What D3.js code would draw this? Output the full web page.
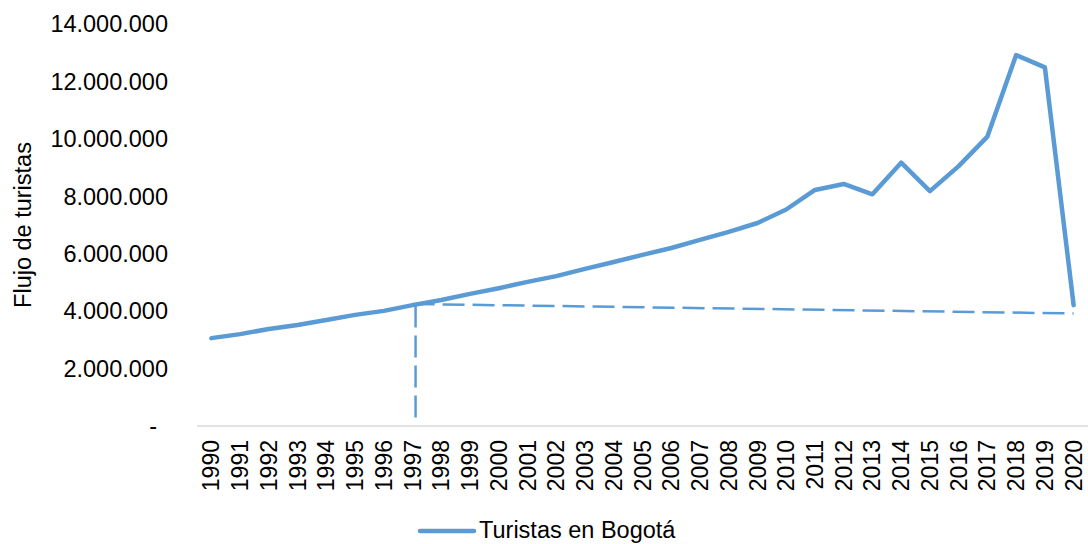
<!DOCTYPE html>
<html>
<head>
<meta charset="utf-8">
<script src="https://cdn.jsdelivr.net/npm/d3@7"></script>
<style>
  body { margin: 0; background: #fff; }
  svg text { font-family: "Liberation Sans", Arial, sans-serif; fill: #000; }
</style>
</head>
<body>
<svg id="chart" width="1088" height="544"></svg>
<script>
const years = d3.range(1990, 2021).map(String);
const turistas = [
  3060000, 3200000, 3380000, 3520000, 3690000, 3870000, 4010000, 4210000,
  4390000, 4600000, 4800000, 5020000, 5220000, 5470000, 5710000, 5960000,
  6200000, 6480000, 6760000, 7070000, 7540000, 8220000, 8430000, 8070000,
  9170000, 8180000, 9050000, 10080000, 12920000, 12490000, 4210000
];
// tendencia proyectada desde 1997
const projYears = ["1997", "2020"];
const projValues = [4250000, 3920000];
const markerYear = "1997";
const markerRange = [300000, 4200000];
const yTicks = [0, 2000000, 4000000, 6000000, 8000000, 10000000, 12000000, 14000000];

const svg = d3.select("#chart");
const margin = { top: 24, right: 0, bottom: 118, left: 197 };
const width = 1088 - margin.left - margin.right;
const height = 544 - margin.top - margin.bottom;
const color = "#5B9BD5";

const locale = d3.formatLocale({ decimal: ",", thousands: ".", grouping: [3], currency: ["$", ""] });
const fmt = locale.format(",.0f");

const g = svg.append("g").attr("transform", `translate(${margin.left},${margin.top})`);

const x = d3.scalePoint().domain(years).range([0, width]).padding(0.5);
const y = d3.scaleLinear().domain([0, 14000000]).range([height, 0]);

// eje x
g.append("line")
  .attr("x1", 0).attr("x2", width)
  .attr("y1", height).attr("y2", height)
  .style("stroke", "#d9d9d9").style("stroke-width", 1.5);

g.selectAll(".year")
  .data(years)
  .enter().append("text")
  .attr("class", "year")
  .attr("transform", d => `translate(${x(d)},${height + 14}) rotate(-90)`)
  .attr("dy", "0.35em")
  .style("text-anchor", "end")
  .style("font-size", "23px")
  .text(d => d);

// eje y
g.selectAll(".ytick")
  .data(yTicks)
  .enter().append("text")
  .attr("class", "ytick")
  .attr("x", d => d === 0 ? -40 : -29)
  .attr("y", d => y(d))
  .attr("dy", "0.35em")
  .style("text-anchor", "end")
  .style("font-size", "23.5px")
  .text(d => d === 0 ? "-" : fmt(d));

svg.append("text")
  .attr("transform", `translate(31,${margin.top + height / 2}) rotate(-90)`)
  .style("text-anchor", "middle")
  .style("font-size", "23.5px")
  .text("Flujo de turistas");

// líneas punteadas
g.append("line")
  .attr("x1", x(markerYear) + 3).attr("x2", x(markerYear) + 3)
  .attr("y1", y(markerRange[1])).attr("y2", y(markerRange[0]))
  .style("stroke", color).style("stroke-width", 2.5)
  .style("stroke-dasharray", "22,8");

g.append("path")
  .datum(projYears.map((d, i) => [d, projValues[i]]))
  .attr("d", d3.line().x(d => x(d[0])).y(d => y(d[1])))
  .style("fill", "none")
  .style("stroke", color).style("stroke-width", 2.5)
  .style("stroke-dasharray", "22,8");

// serie principal
g.append("path")
  .datum(turistas)
  .attr("d", d3.line().x((d, i) => x(years[i])).y(d => y(d)))
  .style("fill", "none")
  .style("stroke", color)
  .style("stroke-width", 4.5)
  .style("stroke-linejoin", "round")
  .style("stroke-linecap", "round");

// leyenda
const legend = svg.append("g").attr("transform", "translate(420,531)");
legend.append("line")
  .attr("x1", 0).attr("x2", 54)
  .style("stroke", color).style("stroke-width", 4.5)
  .style("stroke-linecap", "round");
legend.append("text")
  .attr("x", 59).attr("dy", "0.3em")
  .style("font-size", "23.5px")
  .text("Turistas en Bogotá");
</script>
</body>
</html>
